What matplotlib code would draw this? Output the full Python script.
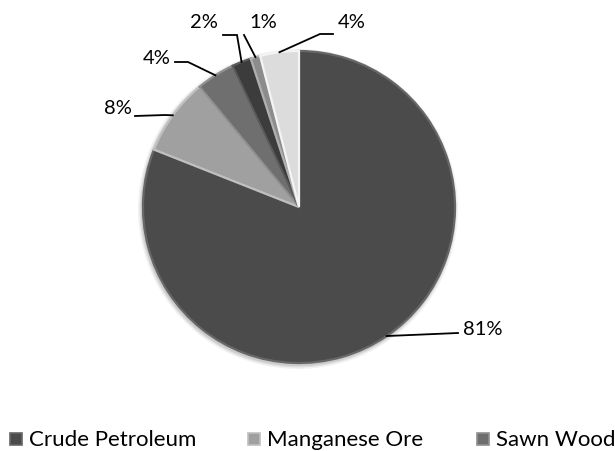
import matplotlib
matplotlib.use("Agg")
import matplotlib.pyplot as plt
import numpy as np

categories = ["Crude Petroleum", "Manganese Ore", "Sawn Wood", "Other 1", "Other 2", "Other 3"]
values = [81, 8, 4, 2, 1, 4]
labels = ["81%", "8%", "4%", "2%", "1%", "4%"]
colors = ["#4b4b4b", "#a0a0a0", "#6f6f6f", "#3c3c3c", "#8c8c8c", "#dcdcdc"]
edge_colors = ["#676767", "#c0c0c0", "#909090", "#5a5a5a", "#b0b0b0", "#f4f4f4"]
legend_items = 3

plt.rcParams['font.family'] = ['Lato', 'DejaVu Sans']

W, H = 615, 452
fig = plt.figure(figsize=(W / 100, H / 100), dpi=100)
ax = fig.add_axes([0, 0, 1, 1])

cx, cy, r = 299, H - 208, 156
# soft shadow
for k, a in [(4, 0.05), (2.5, 0.07), (1.2, 0.09)]:
    ax.add_patch(plt.Circle((cx - 1, cy - 2), r + k, color="black", alpha=a, lw=0))
wedges, _ = ax.pie(values, colors=colors, startangle=90, counterclock=False,
                   center=(cx, cy), radius=r, frame=True,
                   wedgeprops=dict(linewidth=1.6))
for w, ec in zip(wedges, edge_colors):
    w.set_edgecolor(ec)
ax.set_xlim(0, W)
ax.set_ylim(0, H)
ax.set_aspect("equal")
ax.axis("off")

# label text positions (pixel coords, y from top), leader bend and end points
label_pos = [(463, 330), (132, 109), (171, 58), (204, 23), (263, 23), (352, 23)]
bend = [(458, 334), (165, 116), (188, 63), (237, 36), (244, 36), (320, 35)]
lend = [(458, 334), (135, 117), (175, 63), (223, 36), (244, 36), (333, 35)]
ha = ["left", "right", "right", "center", "center", "center"]
for w, lab, (lx, ly), (bx, by), (ex, ey), h in zip(wedges, labels, label_pos, bend, lend, ha):
    th = np.deg2rad((w.theta1 + w.theta2) / 2)
    px, py = cx + r * np.cos(th), cy + r * np.sin(th)
    ax.plot([px, bx, ex], [py, H - by, H - ey], color="black", lw=1.3,
            solid_joinstyle="miter")
    ax.text(lx, H - ly, lab, fontsize=14.5, ha=h, va="center", color="black")

# legend
leg_x = [10, 248, 477]
leg_y = H - 440
for i in range(legend_items):
    ax.add_patch(plt.Rectangle((leg_x[i], leg_y - 6), 12, 12, facecolor=colors[i],
                               edgecolor=edge_colors[i], lw=1.2))
    ax.text(leg_x[i] + 19, leg_y, categories[i], fontsize=16, ha="left", va="center")

fig.savefig("out.png", dpi=100)
